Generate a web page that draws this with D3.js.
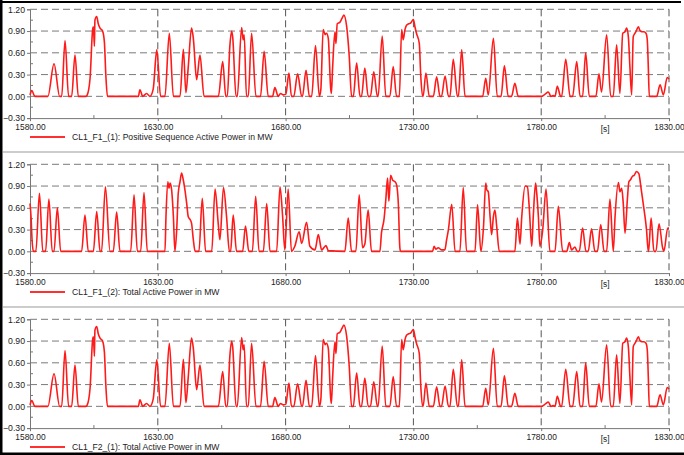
<!DOCTYPE html>
<html>
<head>
<meta charset="utf-8">
<script src="https://cdn.jsdelivr.net/npm/d3@7"></script>
<style>
  body { margin: 0; background: #fff; }
  svg { display: block; font-family: "Liberation Sans", Arial, sans-serif; }
</style>
</head>
<body>
<div class="svg-container"></div>
<script>
var width = 684,
  height = 455;

// [time in s, power in MW]
var seriesF1a = [
  [1580,0.02],[1580.7,0.08],[1581.9,0],[1587,0],[1589.4,0.45],[1591.6,0],[1592.4,0],
  [1593.7,0.77],[1595.1,0],[1596.3,0],[1597.6,0.57],[1598.9,0],[1601.9,0],[1602.4,0.02],
  [1603.5,0.25],[1604.5,0.92],[1604.8,0.96],[1605.2,0.69],[1605.4,1.05],[1606.1,1.1],
  [1606.7,1.0],[1607.4,0.94],[1608.4,0.9],[1609.1,0.75],[1609.7,0.27],[1610.3,0],
  [1622.4,0],[1623,0.09],[1624.1,0],[1625.6,0.04],[1626.9,0],[1628.2,0.1],[1629.6,0.64],
  [1631.1,0],[1632.8,0],[1634.5,0.87],[1636.1,0],[1638.7,0],[1640,0.65],[1641,0.05],
  [1641.9,0.4],[1643.2,0.94],[1643.9,0.8],[1645.2,0.23],[1646.5,0.57],[1648.1,0],
  [1653.7,0],[1655.4,0.48],[1656.6,0],[1657.2,0],[1658.2,0.7],[1658.9,0.9],[1659.3,0.82],
  [1660.6,0],[1661.1,0],[1662.8,0.95],[1663.4,0.78],[1663.8,0.85],[1664.7,0],[1665.4,0],
  [1666.7,0.87],[1668.4,0],[1670.2,0],[1671.6,0.62],[1673.2,0],[1674.9,0],[1675.8,0.12],
  [1677.1,0],[1678,0.04],[1679.1,0.02],[1680.1,0.03],[1681.3,0.32],[1682.3,0],[1683.2,0],
  [1684.7,0.31],[1686.3,0],[1686.6,0],[1688,0.36],[1689.3,0],[1690.2,0],[1691.7,0.7],
  [1693.2,0],[1693.8,0.1],[1694.7,0.92],[1695.5,0.85],[1696,0.87],[1696.7,0.8],
  [1697.6,0.13],[1697.9,0.04],[1698.4,0.4],[1699.3,0.89],[1699.7,0.73],[1700.2,1.0],
  [1701.2,1.02],[1702,1.07],[1702.8,1.12],[1703.9,0.96],[1704.9,0.55],[1705.8,0],
  [1706.5,0],[1707.8,0.46],[1709.1,0],[1709.7,0],[1711,0.39],[1712.3,0],[1713.2,0],
  [1714.5,0.34],[1715.9,0],[1716.2,0],[1717.8,0.83],[1719.2,0],[1720.8,0],[1722.1,0.41],
  [1723.4,0],[1724.5,0],[1725.4,0.92],[1726,0.78],[1726.7,0.92],[1727.3,0.98],[1728.2,1.0],
  [1728.9,1.01],[1730,1.06],[1730.6,0.96],[1731.2,0.87],[1732.3,0.73],[1732.9,0.27],
  [1733.6,0],[1733.8,0],[1734.9,0.32],[1736.2,0],[1737.8,0],[1739.1,0.27],[1740.4,0],
  [1741,0],[1742.4,0.28],[1743.7,0],[1744.3,0],[1745.6,0.51],[1747.2,0],[1747.6,0],
  [1748.9,0.64],[1750.2,0],[1757.1,0],[1758.3,0.25],[1759.3,0.02],[1761.3,0.8],[1762.8,0],
  [1764.3,0],[1765.6,0.42],[1767.1,0],[1768.4,0],[1769.7,0.18],[1771,0],[1780.2,0],
  [1781.5,0.03],[1782.8,0.06],[1783.8,0],[1784.7,0.01],[1785.4,0],[1786.3,0.14],[1787.6,0],
  [1788,0],[1789.6,0.51],[1791.3,0],[1792.3,0],[1793.9,0.48],[1795.2,0],[1796.2,0],
  [1797.4,0.6],[1798.8,0],[1801.4,0],[1802.6,0.31],[1803.6,0.06],[1805.6,0.85],[1807.2,0],
  [1808.2,0],[1809.5,0.71],[1810.8,0.04],[1811.9,0.87],[1812.8,0.89],[1813.4,0.94],
  [1814.1,0.82],[1814.7,0.41],[1815.4,0.02],[1816,0.82],[1816.7,0.87],[1817.3,0.91],
  [1818,0.96],[1818.6,0.91],[1819.3,0.89],[1820.2,0.89],[1821,0.87],[1821.5,0.78],
  [1821.9,0.41],[1822.3,0],[1825.2,0],[1826.5,0.16],[1827.8,0.02],[1829.3,0.26],[1830,0.24]
];

var seriesF1b = [
  [1580,0.66],[1580.4,0.48],[1580.8,0.16],[1581.3,0],[1582.3,0],[1583.7,0.8],[1585,0],
  [1586.1,0],[1587.4,0.72],[1588.7,0],[1589.4,0],[1590.7,0.6],[1592,0],[1600.2,0],
  [1601.5,0.5],[1602.8,0],[1604.8,0],[1606.1,0.55],[1607.4,0],[1608,0],[1609.5,0.89],
  [1611.3,0],[1612.6,0],[1613.9,0.54],[1615.2,0],[1619.4,0],[1620.7,0.78],[1622,0],
  [1623.3,0],[1624.6,0.81],[1625.9,0],[1632.8,0],[1633.2,0.48],[1633.9,0.96],[1634.4,0.87],
  [1634.8,0.94],[1635.4,0.85],[1636.1,0.48],[1636.7,0],[1637.4,0.3],[1638,0.8],
  [1638.7,0.96],[1639.3,1.08],[1640,0.98],[1640.6,0.85],[1641.3,0.66],[1641.9,0.48],
  [1642.6,0.44],[1643.2,0.39],[1643.9,0.16],[1644.6,0],[1646.1,0],[1647.4,0.73],
  [1648.7,0],[1651.1,0],[1652.4,0.86],[1653.6,0.4],[1654.3,0.16],[1655.7,0.88],
  [1656.9,0.48],[1658,0],[1658.5,0],[1659.5,0.5],[1660.8,0],[1663.2,0],[1664.3,0.35],
  [1665.6,0],[1667,0],[1668.3,0.76],[1669.6,0],[1671.3,0],[1672.6,0.66],[1673.9,0],
  [1676.5,0],[1677.8,0.89],[1678.8,0.5],[1679.7,0.02],[1681,0.86],[1682.3,0],
  [1683.6,0.07],[1685.3,0.27],[1686.3,0.11],[1688.2,0.4],[1689.5,0.07],[1691.5,0.02],
  [1692.8,0.23],[1694.1,0.02],[1695.8,0.08],[1696.7,0.01],[1703.2,0],[1704.5,0.46],
  [1705.8,0],[1707.5,0],[1708.8,0.78],[1710.1,0.05],[1711,0.1],[1712.3,0.57],[1713.6,0],
  [1716.9,0],[1717.5,0.25],[1718.5,0.44],[1719.2,0.71],[1719.9,1.01],[1720.4,0.69],
  [1721.1,1.05],[1721.9,0.98],[1722.8,0.96],[1723.4,0.92],[1724.1,0.66],[1724.7,0.05],
  [1725,0],[1737.5,0],[1738.1,0.07],[1738.8,0.03],[1739.7,0.05],[1741,0.02],[1742.3,0.02],
  [1743,0.16],[1743.7,0.3],[1745,0.65],[1746.3,0],[1748.2,0],[1749.5,0.88],[1750.8,0],
  [1754.1,0],[1755.1,0.64],[1756.4,0],[1757.4,0.32],[1758.3,0.94],[1758.7,0.85],
  [1759.3,0.82],[1760,0.48],[1760.6,0.23],[1761.3,0.48],[1761.9,0.57],[1762.6,0.34],
  [1763.6,0],[1769.7,0],[1770.7,0.46],[1771.7,0.1],[1772.4,0.48],[1773.7,0.9],
  [1774.6,0.89],[1775.3,0.62],[1776.3,0.07],[1776.9,0.48],[1777.8,0.94],[1778.2,0.82],
  [1778.9,0.48],[1779.5,0.07],[1780.6,0.3],[1781.9,0.86],[1783.4,0],[1785.4,0],
  [1786.7,0.62],[1788.4,0],[1790,0],[1791,0.12],[1791.9,0.02],[1793.2,0.06],[1794.1,0],
  [1794.9,0],[1796.2,0.32],[1797.5,0],[1798.4,0],[1799.7,0.31],[1801,0],[1802,0],
  [1803.3,0.37],[1804.6,0],[1805.6,0],[1806.9,0.72],[1808.2,0],[1808.9,0.48],
  [1810.2,0.95],[1810.8,0.82],[1811.5,0.87],[1812.1,0.66],[1812.8,0.25],[1813.7,0.71],
  [1814.3,0.96],[1815,0.99],[1815.6,1.03],[1816.4,1.05],[1817.3,1.1],[1818.2,1.07],
  [1819,0.89],[1819.9,0.66],[1821.2,0.3],[1821.9,0],[1822,0],[1823,0.46],[1824.1,0],
  [1824.9,0],[1826.1,0.38],[1827.5,0.05],[1828,0],[1829.5,0.32],[1830,0.32]
];

// CL1_F2_(1) reads the same as CL1_F1_(1)
var seriesF2a = seriesF1a;

var panelSeries = [seriesF1a, seriesF1b, seriesF2a];
var panelLegends = [
  "CL1_F1_(1): Positive Sequence Active Power in MW",
  "CL1_F1_(2): Total Active Power in MW",
  "CL1_F2_(1): Total Active Power in MW"
];

var xTicks = [1580, 1630, 1680, 1730, 1780, 1830];
var xMinor = [1605, 1655, 1705, 1755, 1805];
var yTicks = [-0.30, 0.00, 0.30, 0.60, 0.90, 1.20];
var yMinor = [-0.15, 0.15, 0.45, 0.75, 1.05];
var unitLabel = "[s]";

var svg = d3.select(".svg-container").append("svg")
  .attr("width", width)
  .attr("height", height);

var left = 30, right = 669,
  plotH = 108.8,
  panelStep = 155,
  firstTop = 9.3;

var x = d3.scaleLinear().domain([1580, 1830]).range([left, right]);

var line = d3.line()
  .x(function(d) { return x(d[0]); })
  .curve(d3.curveMonotoneX);

panelSeries.forEach(function(data, i) {
  var top = firstTop + i * panelStep;
  var y = d3.scaleLinear().domain([-0.3, 1.2]).range([top + plotH, top]);
  var g = svg.append("g");

  // dashed grid
  g.selectAll(".hgrid")
    .data(yTicks.filter(function(v) { return v > -0.3; }))
    .enter().append("line")
    .attr("x1", left).attr("x2", right)
    .attr("y1", function(d) { return y(d); })
    .attr("y2", function(d) { return y(d); })
    .attr("stroke", "#7a7a7a")
    .attr("stroke-width", 1)
    .attr("stroke-dasharray", "7,4");

  g.selectAll(".vgrid")
    .data(xTicks.slice(1))
    .enter().append("line")
    .attr("x1", function(d) { return x(d); })
    .attr("x2", function(d) { return x(d); })
    .attr("y1", top).attr("y2", top + plotH)
    .attr("stroke", "#555")
    .attr("stroke-width", 1)
    .attr("stroke-dasharray", "7,4");

  // axes
  var yAxis = d3.axisLeft(y).tickValues(yTicks).tickSize(3)
    .tickFormat(d3.format(".2f"));
  var ya = g.append("g")
    .attr("transform", "translate(" + left + ",0)")
    .call(yAxis);
  ya.select(".domain").attr("stroke", "#777");
  ya.selectAll(".tick line").attr("stroke", "#777");
  ya.selectAll("text")
    .attr("fill", "#222")
    .attr("font-size", 8.7)
    .attr("x", -5)
    .attr("font-family", "Liberation Sans, Arial, sans-serif");

  g.selectAll(".yminor")
    .data(yMinor)
    .enter().append("line")
    .attr("x1", left).attr("x2", left + 3)
    .attr("y1", function(d) { return y(d); })
    .attr("y2", function(d) { return y(d); })
    .attr("stroke", "#777");

  var xAxis = d3.axisBottom(x).tickValues(xTicks).tickSize(3)
    .tickFormat(d3.format(".2f"));
  var xa = g.append("g")
    .attr("transform", "translate(0," + (top + plotH) + ")")
    .call(xAxis);
  xa.select(".domain").attr("stroke", "#777");
  xa.selectAll(".tick line").attr("stroke", "#777");
  xa.selectAll("text")
    .attr("fill", "#222")
    .attr("font-size", 8.4)
    .attr("dy", "0.65em")
    .attr("font-family", "Liberation Sans, Arial, sans-serif");

  g.selectAll(".xminor")
    .data(xMinor)
    .enter().append("line")
    .attr("x1", function(d) { return x(d); })
    .attr("x2", function(d) { return x(d); })
    .attr("y1", top + plotH).attr("y2", top + plotH - 3)
    .attr("stroke", "#777");

  g.append("text")
    .attr("x", x(1805))
    .attr("y", top + plotH + 14)
    .attr("text-anchor", "middle")
    .attr("font-size", 8.4)
    .attr("fill", "#222")
    .text(unitLabel);

  // the signal
  g.append("path")
    .datum(data)
    .attr("fill", "none")
    .attr("stroke", "#ff1a1a")
    .attr("stroke-width", 1.6)
    .attr("stroke-linejoin", "round")
    .attr("d", line.y(function(d) { return y(d[1]); }));

  // legend
  var ly = top + plotH + 19;
  g.append("line")
    .attr("x1", 30).attr("x2", 65)
    .attr("y1", ly).attr("y2", ly)
    .attr("stroke", "#ff3030")
    .attr("stroke-width", 2);
  g.append("text")
    .attr("x", 72)
    .attr("y", ly + 3)
    .attr("font-size", 8.6)
    .attr("fill", "#222")
    .text(panelLegends[i]);
});

// panel separators and frame
[152, 307].forEach(function(sy) {
  svg.append("line")
    .attr("x1", 3).attr("x2", width)
    .attr("y1", sy).attr("y2", sy)
    .attr("stroke", "#999")
    .attr("stroke-width", 1.2);
});
svg.append("rect").attr("x", 0).attr("y", 0).attr("width", 2.5).attr("height", height).attr("fill", "#000");
svg.append("rect").attr("x", 0).attr("y", 1).attr("width", 681).attr("height", 2).attr("fill", "#000");
svg.append("rect").attr("x", 0).attr("y", 452.5).attr("width", width).attr("height", 2.5).attr("fill", "#000");
</script>
</body>
</html>
